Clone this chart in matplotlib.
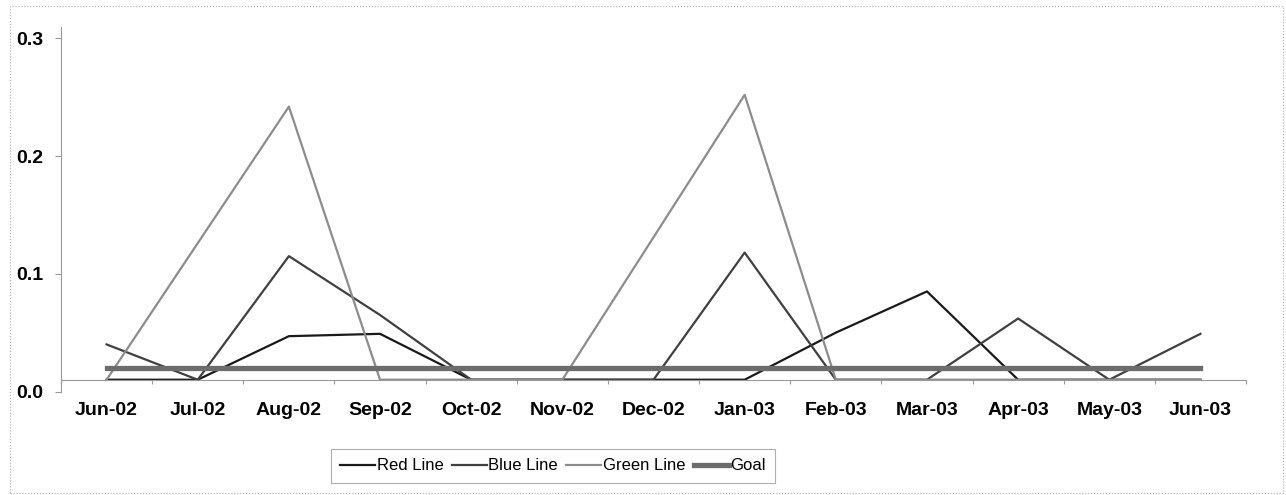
import numpy as np
import matplotlib.pyplot as plt
from matplotlib.patches import Rectangle

plt.rcParams['font.family'] = ['Liberation Sans', 'DejaVu Sans']

# monthly values
months = ['Jun-02', 'Jul-02', 'Aug-02', 'Sep-02', 'Oct-02', 'Nov-02', 'Dec-02',
          'Jan-03', 'Feb-03', 'Mar-03', 'Apr-03', 'May-03', 'Jun-03']
red_line = [0.01, 0.01, 0.047, 0.049, 0.01, 0.01, 0.01, 0.01, 0.050, 0.085, 0.01, 0.01, 0.01]
blue_line = [0.040, 0.01, 0.115, 0.065, 0.01, 0.01, 0.01, 0.118, 0.01, 0.01, 0.062, 0.01, 0.049]
green_line = [0.01, 0.126, 0.242, 0.01, 0.01, 0.01, 0.131, 0.252, 0.01, 0.01, 0.01, 0.01, 0.01]
goal = [0.02] * 13
y_ticks = [0.0, 0.1, 0.2, 0.3]
axis_cross = 0.01

W, H = 1286, 495
fig = plt.figure(figsize=(W / 100, H / 100), dpi=100)
ax = fig.add_axes([61 / W, 1 - 391.5 / H, 1185 / W, 364.9 / H])

x = np.arange(len(months))
ax.plot(x, red_line, color='#1a1a1a', lw=1.6, label='Red Line')
ax.plot(x, blue_line, color='#404040', lw=1.6, label='Blue Line')
ax.plot(x, green_line, color='#8c8c8c', lw=1.6, label='Green Line')
ax.plot(x, goal, color='#6c6c6c', lw=3.8, label='Goal')

ax.set_xlim(-0.5, len(months) - 0.5)
ax.set_ylim(0, 0.31)

# category axis crosses the value axis above zero
for s in ['top', 'right']:
    ax.spines[s].set_visible(False)
ax.spines['bottom'].set_position(('data', axis_cross))
ax.spines['bottom'].set_color('#9a9a9a')
ax.spines['left'].set_color('#9a9a9a')
ax.spines['bottom'].set_linewidth(0.8)
ax.spines['left'].set_linewidth(0.8)

ax.set_xticks(x)
ax.set_xticklabels(months, fontsize=14, fontweight='bold')
ax.set_xticks(np.arange(-0.5, len(months)), minor=True)
ax.tick_params(axis='x', which='major', length=0, pad=16)
ax.tick_params(axis='x', which='minor', length=3, color='#9a9a9a', width=0.8)

ax.set_yticks(y_ticks)
ax.set_yticklabels([f'{v:.1f}' for v in y_ticks], fontsize=14, fontweight='bold')
ax.tick_params(axis='y', length=4, color='#9a9a9a', width=0.8, pad=9)

fig.legend(loc='center', bbox_to_anchor=(553 / W, 1 - 466 / H), ncol=4,
           fontsize=12, frameon=True, fancybox=False, edgecolor='#9a9a9a',
           handlelength=2.1, handletextpad=0.1, columnspacing=0.5,
           borderpad=0.55, borderaxespad=0)
fig.legends[0].get_frame().set_linewidth(0.8)

# chart area border
fig.patches.append(Rectangle((10 / W, 2 / H), 1273 / W, 487 / H,
                             transform=fig.transFigure, fill=False,
                             edgecolor='#b0b0b0', lw=0.8, ls=':'))

fig.savefig('out.png', dpi=100)
